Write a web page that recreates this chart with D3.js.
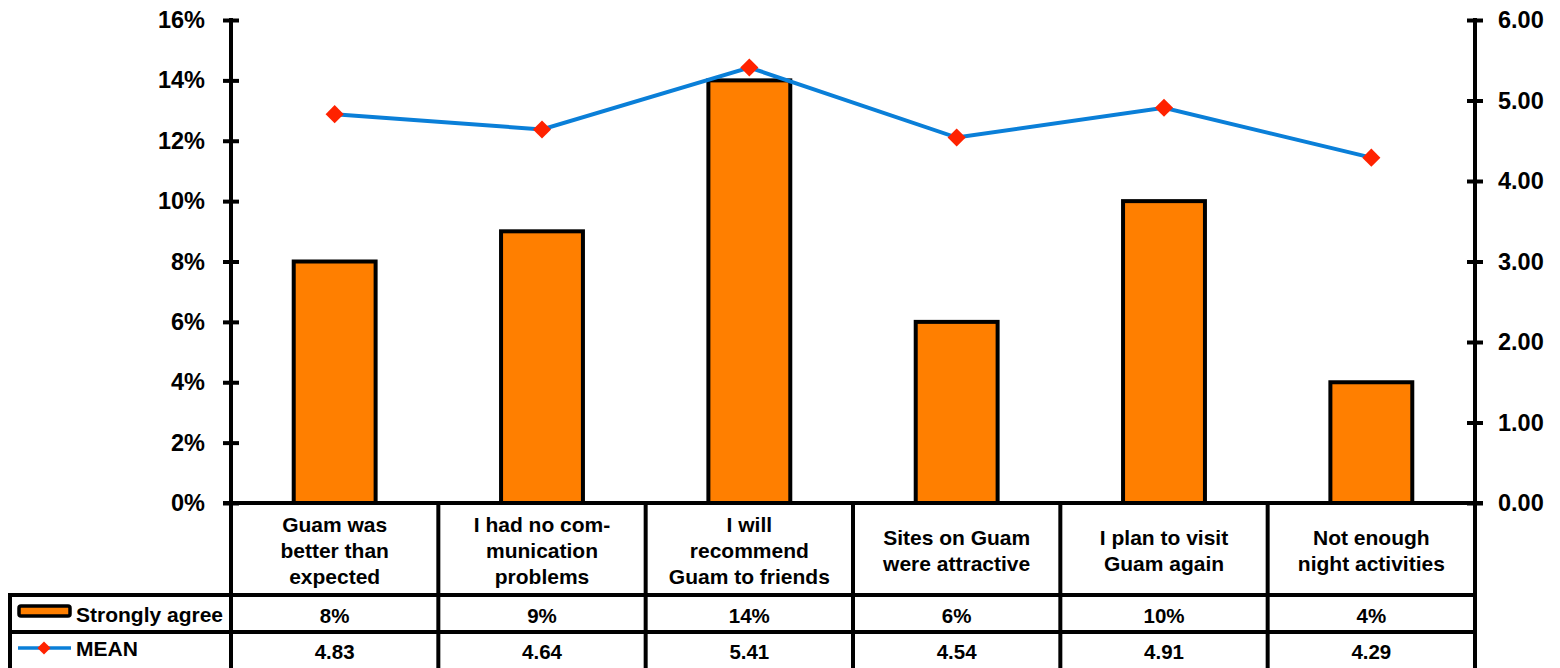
<!DOCTYPE html>
<html>
<head>
<meta charset="utf-8">
<script src="https://cdn.jsdelivr.net/npm/d3@7"></script>
<style>
  html, body { margin: 0; padding: 0; background: #fff; }
  svg { display: block; font-family: "Liberation Sans", Arial, sans-serif; font-weight: bold; }
</style>
</head>
<body>
<svg id="chart" width="1560" height="668"></svg>
<script>
// Survey items (line breaks as printed in the table header)
const categories = [
  "Guam was\nbetter than\nexpected",
  "I had no com-\nmunication\nproblems",
  "I will\nrecommend\nGuam to friends",
  "Sites on Guam\nwere attractive",
  "I plan to visit\nGuam again",
  "Not enough\nnight activities"
];
const stronglyAgree = [8, 9, 14, 6, 10, 4];          // percent
const meanScore = [4.83, 4.64, 5.41, 4.54, 4.91, 4.29];
const leftTicks = [0, 2, 4, 6, 8, 10, 12, 14, 16];
const rightTicks = [0, 1, 2, 3, 4, 5, 6];
const seriesNames = ["Strongly agree", "MEAN"];

const svg = d3.select("#chart");
const plot = { left: 231, right: 1475, top: 20, bottom: 503 };
const tableLeft = 10, rowHeaderBottom = 595, rowSplit = 632, tableBottom = 668;

const ORANGE = "#ff7f00", BLUE = "#0a7fd8", RED = "#ff2200";
const FONT = "Liberation Sans, Arial, sans-serif";

const x = d3.scaleBand().domain(categories).range([plot.left, plot.right]).padding(0);
const yL = d3.scaleLinear().domain([0, 16]).range([plot.bottom, plot.top]);
const yR = d3.scaleLinear().domain([0, 6]).range([plot.bottom, plot.top]);
const bw = x.bandwidth();
const barW = bw * 0.395;

// Bars
svg.append("g").selectAll("rect").data(categories).join("rect")
  .attr("x", c => x(c) + (bw - barW) / 2)
  .attr("y", (c, i) => yL(stronglyAgree[i]))
  .attr("width", barW)
  .attr("height", (c, i) => yL(0) - yL(stronglyAgree[i]))
  .attr("fill", ORANGE).attr("stroke", "#000").attr("stroke-width", 4);

// Left axis
const axL = svg.append("g").attr("transform", `translate(${plot.left},0)`)
  .call(d3.axisLeft(yL).tickValues(leftTicks).tickFormat(d => d + "%").tickSize(0).tickPadding(26));
axL.select(".domain").remove();
axL.selectAll("text").attr("font-size", 23.5).attr("font-family", FONT)
  .attr("font-weight", "bold").attr("fill", "#000");
axL.selectAll(".tick").append("line").attr("x1", -8).attr("x2", 8).attr("stroke", "#000").attr("stroke-width", 4);
axL.append("line").attr("y1", plot.top - 2).attr("y2", plot.bottom + 2).attr("stroke", "#000").attr("stroke-width", 4);

// Right axis
const axR = svg.append("g").attr("transform", `translate(${plot.right},0)`)
  .call(d3.axisRight(yR).tickValues(rightTicks).tickFormat(d3.format(".2f")).tickSize(0).tickPadding(23));
axR.select(".domain").remove();
axR.selectAll("text").attr("font-size", 23.5).attr("font-family", FONT)
  .attr("font-weight", "bold").attr("fill", "#000");
axR.selectAll(".tick").append("line").attr("x1", -8).attr("x2", 8).attr("stroke", "#000").attr("stroke-width", 4);
axR.append("line").attr("y1", plot.top - 2).attr("y2", tableBottom).attr("stroke", "#000").attr("stroke-width", 4);

// Baseline
svg.append("line").attr("x1", plot.left - 8).attr("x2", plot.right + 8)
  .attr("y1", plot.bottom).attr("y2", plot.bottom).attr("stroke", "#000").attr("stroke-width", 4);

// Mean line with diamond markers
const cx = c => x(c) + bw / 2;
svg.append("path").datum(categories)
  .attr("d", d3.line().x(cx).y((c, i) => yR(meanScore[i])))
  .attr("fill", "none").attr("stroke", BLUE).attr("stroke-width", 4);
const diamond = d3.symbol().type(d3.symbolDiamond2).size(210);
svg.append("g").selectAll("path").data(categories).join("path")
  .attr("d", diamond)
  .attr("transform", (c, i) => `translate(${cx(c)},${yR(meanScore[i])})`)
  .attr("fill", RED);

// Data table grid
const grid = svg.append("g").attr("stroke", "#000").attr("stroke-width", 4);
x.domain().forEach(c => {
  grid.append("line").attr("x1", x(c)).attr("x2", x(c)).attr("y1", plot.bottom).attr("y2", tableBottom);
});
grid.append("line").attr("x1", tableLeft).attr("x2", tableLeft).attr("y1", rowHeaderBottom).attr("y2", tableBottom);
[rowHeaderBottom, rowSplit].forEach(y => {
  grid.append("line").attr("x1", tableLeft - 2).attr("x2", plot.right + 2).attr("y1", y).attr("y2", y);
});

// Category labels, vertically centred in the header cell
const lab = svg.append("g").attr("font-size", 21).attr("text-anchor", "middle").attr("fill", "#000");
const lineGap = 26, midBaseline = 558;
categories.forEach(c => {
  const lines = c.split("\n");
  const t = lab.append("text").attr("x", cx(c)).attr("y", midBaseline - (lines.length - 1) * lineGap / 2);
  lines.forEach((ln, k) => t.append("tspan").attr("x", cx(c)).attr("dy", k === 0 ? 0 : lineGap).text(ln));
});

// Table values
const row1Base = 623, row2Base = 659;
const vals = svg.append("g").attr("font-size", 20.5).attr("text-anchor", "middle").attr("fill", "#000");
vals.selectAll("text.r1").data(categories).join("text").attr("class", "r1")
  .attr("x", cx).attr("y", row1Base).text((c, i) => stronglyAgree[i] + "%");
vals.selectAll("text.r2").data(categories).join("text").attr("class", "r2")
  .attr("x", cx).attr("y", row2Base).text((c, i) => d3.format(".2f")(meanScore[i]));

// Legend keys in row headers
const lg = svg.append("g");
lg.append("rect").attr("x", 19).attr("y", 606).attr("width", 51).attr("height", 10)
  .attr("rx", 2).attr("fill", ORANGE).attr("stroke", "#000").attr("stroke-width", 3.5);
lg.append("text").attr("x", 76).attr("y", 622).attr("font-size", 21).text(seriesNames[0]);
lg.append("line").attr("x1", 18).attr("x2", 71).attr("y1", 648).attr("y2", 648)
  .attr("stroke", BLUE).attr("stroke-width", 3.5);
lg.append("path").attr("d", d3.symbol().type(d3.symbolDiamond2).size(110))
  .attr("transform", "translate(44,648)").attr("fill", RED);
lg.append("text").attr("x", 76).attr("y", 656).attr("font-size", 21).text(seriesNames[1]);
</script>
</body>
</html>
